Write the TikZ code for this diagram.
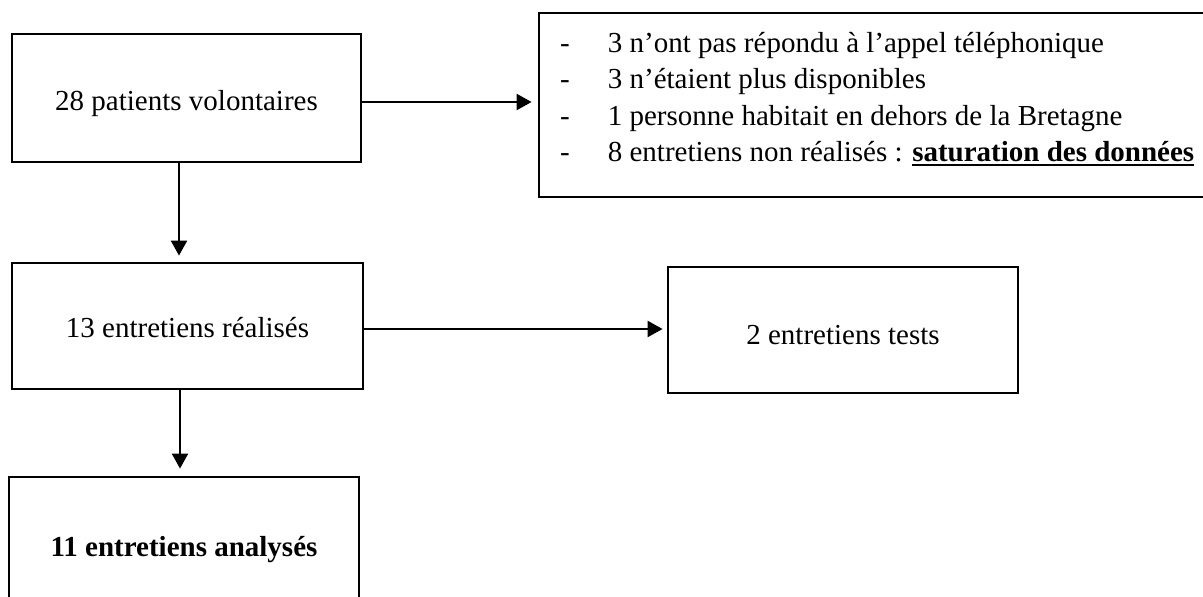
\documentclass[tikz,border=0pt]{standalone}
\usepackage{fontspec}
\setmainfont{Liberation Serif}
\usetikzlibrary{arrows.meta}
\newcommand\ulbox[1]{\setbox0\hbox{#1}\rlap{\rule[-5pt]{\wd0}{2.2pt}}\box0}
\begin{document}
\begin{tikzpicture}[x=1pt,y=-1pt,
  box/.style={draw,line width=2.8pt,rectangle,inner sep=0pt,text depth=6pt,
    font=\fontsize{29}{35}\selectfont},
  lineitem/.style={anchor=base west,inner sep=0pt,font=\fontsize{29}{35}\selectfont},
  arr/.style={line width=2.2pt,-{Triangle[length=15pt,width=16pt]}}]
\useasboundingbox (0,0) rectangle (1203,597);
\node[box,minimum width=349pt,minimum height=128pt,text height=30pt] (b1) at (186.5,98) {28 patients volontaires};
\node[box,minimum width=681pt,minimum height=184pt] (b2) at (879.5,105) {};
\node[box,minimum width=351pt,minimum height=126pt,text height=28pt] (b3) at (187.5,326) {13 entretiens réalisés};
\node[box,minimum width=350pt,minimum height=126pt,text height=34pt] (b4) at (843,330) {2 entretiens tests};
\node[box,minimum width=350pt,minimum height=130pt,text height=34pt] (b5) at (184,542) {\bfseries 11 entretiens analysés};
\node[lineitem] (l1) at (560,52) {-\hspace{38pt}3 n’ont pas répondu à l’appel téléphonique};
\node[lineitem] (l2) at (560,88) {-\hspace{38pt}3 n’étaient plus disponibles};
\node[lineitem] (l3) at (560,125) {-\hspace{38pt}1 personne habitait en dehors de la Bretagne};
\node[lineitem] (l4) at (560,161) {-\hspace{38pt}8 entretiens non réalisés : \ulbox{\bfseries saturation des données}};
\coordinate (a1) at ([yshift=-4pt]b1.east);
\coordinate (a2) at ([xshift=-7.5pt]b1.south);
\coordinate (a3) at ([yshift=-3pt]b3.east);
\coordinate (a4) at ([xshift=-7.5pt]b3.south);
\draw[arr,shorten >=6pt] (a1) -- (a1 -| b2.west);
\draw[arr,shorten >=6pt] (a2) -- (a2 |- b3.north);
\draw[arr,shorten >=4pt] (a3) -- (a3 -| b4.west);
\draw[arr,shorten >=7pt] (a4) -- (a4 |- b5.north);
\end{tikzpicture}
\end{document}
